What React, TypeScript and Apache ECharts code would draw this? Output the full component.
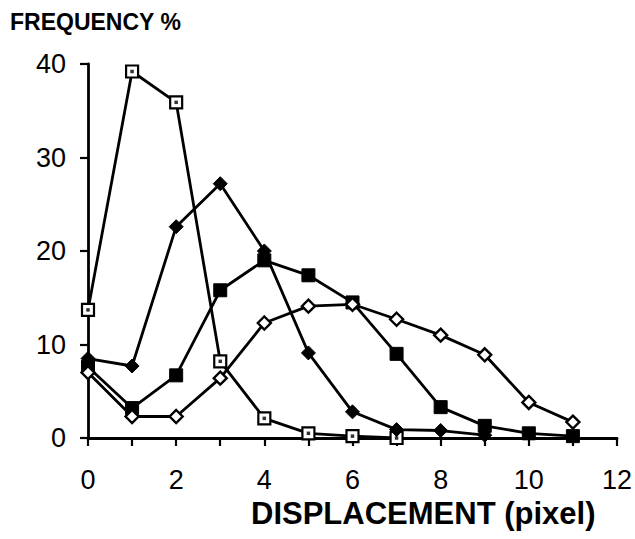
import React, { useEffect, useRef } from "react";
import * as echarts from "echarts";

// Displacement in pixels (x) and frequency in percent (y) for four distributions
const displacementA = [0, 1, 2, 3, 4, 5, 6, 7];
const frequencyA = [13.7, 39.2, 35.9, 8.2, 2.1, 0.5, 0.2, 0.0];

const displacementB = [0, 1, 2, 3, 4, 5, 6, 7, 8, 9];
const frequencyB = [8.5, 7.7, 22.6, 27.2, 20.0, 9.1, 2.8, 0.9, 0.8, 0.3];

const displacementC = [0, 1, 2, 3, 4, 5, 6, 7, 8, 9, 10, 11];
const frequencyC = [7.6, 3.2, 6.7, 15.8, 19.0, 17.4, 14.5, 9.0, 3.3, 1.3, 0.5, 0.2];

const displacementD = [0, 1, 2, 3, 4, 5, 6, 7, 8, 9, 10, 11];
const frequencyD = [7.0, 2.3, 2.3, 6.4, 12.3, 14.1, 14.3, 12.7, 11.0, 8.9, 3.8, 1.7];

const xTicks = [0, 2, 4, 6, 8, 10, 12];
const yTicks = [0, 10, 20, 30, 40];

const FONT = "'Liberation Sans', Arial, Helvetica, sans-serif";

function pairs(xs: number[], ys: number[]) {
  return xs.map((x, i) => [x, ys[i]]);
}

export default function App() {
  const ref = useRef<HTMLDivElement>(null);

  useEffect(() => {
    if (!ref.current) return;
    const chart = echarts.init(ref.current, null, { renderer: "svg" });

    const lineBase = {
      type: "line" as const,
      lineStyle: { color: "#000", width: 2.8 },
      z: 2,
    };

    chart.setOption({
      animation: false,
      backgroundColor: "#fff",
      grid: { left: 88, right: 18, top: 64, bottom: 101 },
      title: [
        {
          text: "FREQUENCY %",
          left: 5,
          top: 5,
          textStyle: { fontFamily: FONT, fontWeight: "bold", fontSize: 23, color: "#000" },
        },
        {
          text: "DISPLACEMENT (pixel)",
          left: 246,
          top: 493,
          textStyle: { fontFamily: FONT, fontWeight: "bold", fontSize: 31, color: "#000" },
        },
      ],
      xAxis: {
        type: "value",
        min: 0,
        max: 12,
        interval: 1,
        splitLine: { show: false },
        axisLine: { lineStyle: { color: "#000", width: 2.8 } },
        axisTick: { show: true, inside: false, length: 8, lineStyle: { color: "#000", width: 2.2 } },
        axisLabel: {
          color: "#000",
          fontFamily: FONT,
          fontSize: 27,
          margin: 28,
          formatter: (v: number) => (xTicks.includes(v) ? String(v) : ""),
        },
      },
      yAxis: {
        type: "value",
        min: 0,
        max: 40,
        interval: 10,
        splitLine: { show: false },
        axisLine: { show: true, lineStyle: { color: "#000", width: 2.8 } },
        axisTick: { show: true, inside: false, length: 8, lineStyle: { color: "#000", width: 2.2 } },
        axisLabel: {
          color: "#000",
          fontFamily: FONT,
          fontSize: 27,
          margin: 22,
          formatter: (v: number) => (yTicks.includes(v) ? String(v) : ""),
        },
      },
      series: [
        {
          ...lineBase,
          name: "A",
          data: pairs(displacementA, frequencyA),
          symbol: "rect",
          symbolSize: 12,
          itemStyle: { color: "#fff", borderColor: "#000", borderWidth: 2.2 },
        },
        {
          // centre dot of the open squares
          type: "scatter",
          name: "A-dot",
          data: pairs(displacementA, frequencyA),
          symbol: "rect",
          symbolSize: 3.5,
          itemStyle: { color: "#000" },
          z: 4,
        },
        {
          ...lineBase,
          name: "B",
          data: pairs(displacementB, frequencyB),
          symbol: "diamond",
          symbolSize: 14,
          itemStyle: { color: "#000", borderColor: "#000", borderWidth: 1 },
        },
        {
          ...lineBase,
          name: "C",
          data: pairs(displacementC, frequencyC),
          symbol: "rect",
          symbolSize: 13,
          itemStyle: { color: "#000", borderColor: "#000", borderWidth: 1 },
        },
        {
          ...lineBase,
          name: "D",
          data: pairs(displacementD, frequencyD),
          symbol: "diamond",
          symbolSize: 13,
          itemStyle: { color: "#fff", borderColor: "#000", borderWidth: 2.4 },
        },
      ],
    });

    return () => chart.dispose();
  }, []);

  return <div ref={ref} style={{ width: 635, height: 539, position: "absolute", left: 0, top: 0 }} />;
}
